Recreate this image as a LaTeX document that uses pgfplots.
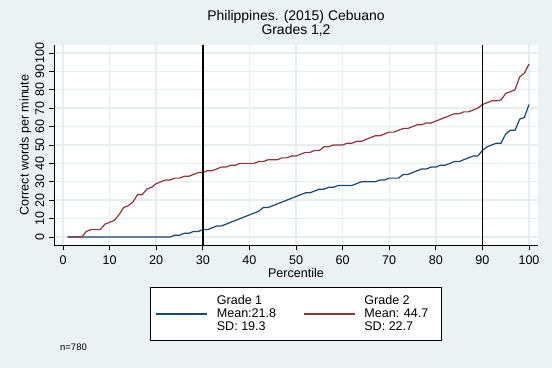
\documentclass[border=0pt]{standalone}
\usepackage{fontspec}
\setmainfont{Liberation Sans}
\usepackage{pgfplots}
\usepackage{pgfplotstable}
\pgfplotsset{compat=1.18}
\definecolor{bg}{HTML}{EAF2F3}
\definecolor{gridc}{HTML}{E6EEF0}
\definecolor{snavy}{HTML}{1A476F}
\definecolor{smaroon}{HTML}{90353B}

\pgfplotstableread{
p g1 g2
1 0 0
2 0 0
3 0 0
4 0 0
5 0 3
6 0 4
7 0 4
8 0 4
9 0 7
10 0 8
11 0 9
12 0 12
13 0 16
14 0 17
15 0 19
16 0 23
17 0 23
18 0 26
19 0 27
20 0 29
21 0 30
22 0 31
23 0 31
24 1 32
25 1 32
26 2 33
27 2 33
28 3 34
29 3 35
30 4 35
31 4 36
32 5 36
33 6 37
34 6 38
35 7 38
36 8 39
37 9 39
38 10 40
39 11 40
40 12 40
41 13 40
42 14 41
43 16 41
44 16 42
45 17 42
46 18 42
47 19 43
48 20 43
49 21 44
50 22 44
51 23 45
52 24 46
53 24 46
54 25 47
55 26 47
56 26 49
57 27 49
58 27 50
59 28 50
60 28 50
61 28 51
62 28 51
63 29 52
64 30 52
65 30 53
66 30 54
67 30 55
68 31 55
69 31 56
70 32 57
71 32 57
72 32 58
73 34 59
74 34 59
75 35 60
76 36 61
77 37 61
78 37 62
79 38 62
80 38 63
81 39 64
82 39 65
83 40 66
84 41 67
85 41 67
86 42 68
87 43 68
88 44 69
89 44 70
90 47 72
91 49 73
92 50 74
93 51 74
94 51 74.5
95 56 78
96 58 79
97 58 80
98 64 87
99 65 89
100 72 94
}\datatable

\begin{document}
\begin{tikzpicture}
\fill[bg] (0bp,0bp) rectangle (552bp,368bp);
\useasboundingbox (0bp,0bp) rectangle (552bp,368bp);
\begin{axis}[
  at={(54bp,123bp)}, anchor=south west,
  width=484bp, height=200bp, scale only axis,
  xmin=-1.93, xmax=101.93, ymin=-4.35, ymax=104.35,
  axis lines*=left,
  axis line style={black, line width=0.9bp, -},
  axis background/.style={fill=white},
  xtick={0,10,...,100}, ytick={0,10,...,100},
  grid=major, major grid style={color=gridc, line width=1.4bp},
  tick align=outside, major tick length=5bp,
  tick style={black, line width=0.9bp},
  /pgf/number format/assume math mode=true,
  ticklabel style={font=\fontsize{12.6}{13}\selectfont, inner sep=0pt},
  yticklabel style={rotate=90, anchor=south},
  xticklabel shift=5.5bp, yticklabel shift=4.5bp,
  xlabel={Percentile}, ylabel={Correct words per minute},
  label style={font=\fontsize{12.6}{13}\selectfont, inner sep=0pt},
  xlabel shift=3.8bp, ylabel shift=4bp,
  title={Philippines. (2015) Cebuano\\Grades 1,2},
  title style={font=\fontsize{14}{14}\selectfont, align=center, inner sep=0pt, at={(0.5,1)}, anchor=south, yshift=2.3bp},
  legend columns=2,
  legend image code/.code={\draw[#1] (0bp,0bp) -- (51bp,0bp);},
  legend style={at={(0.5,-0.21)}, anchor=north, draw=black, line width=0.8bp, fill=white,
    font=\fontsize{12.6}{12.8}\selectfont, inner xsep=5bp, inner ysep=6.5bp,
    cells={anchor=west, align=left, inner sep=0pt},
    /tikz/every odd column/.append style={column sep=7bp},
    /tikz/every even column/.append style={column sep=25bp}},
]
\addplot[snavy, line width=1.2bp, sharp plot] table[x=p, y=g1] {\datatable};
\addlegendentry{Grade 1\\Mean:21.8\\SD: 19.3}
\addplot[smaroon, line width=1.2bp, sharp plot] table[x=p, y=g2] {\datatable};
\addlegendentry{Grade 2\\\makebox[70bp][l]{Mean: 44.7}\\SD: 22.7}
\addplot[black, line width=1.5bp, forget plot] coordinates {(30,-4.35) (30,104.35)};
\addplot[black, line width=1.0bp, forget plot] coordinates {(90,-4.35) (90,104.35)};
\end{axis}
\node[anchor=base west, inner sep=0pt, font=\fontsize{9.5}{10}\selectfont] at (60bp,17.3bp) {n=780};
\end{tikzpicture}
\end{document}
